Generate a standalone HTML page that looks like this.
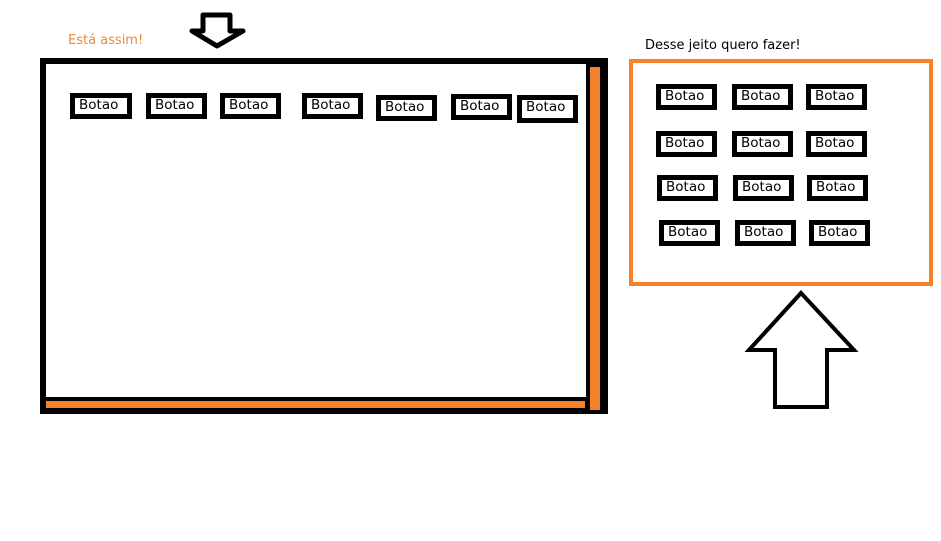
<!DOCTYPE html>
<html><head><meta charset="utf-8"><style>
body{margin:0;width:941px;height:541px;background:#fff;position:relative;overflow:hidden;font-family:"DejaVu Sans","Liberation Sans",sans-serif}
.a{position:absolute;box-sizing:border-box}
.b{position:absolute;box-sizing:border-box;border:5px solid #000;background:#fff;font-size:13.5px;line-height:14px;padding-left:4px;color:#000;height:26px;width:61px;white-space:nowrap;overflow:hidden}
</style></head><body>
<div class="a" style="left:68px;top:33px;font-size:13px;color:#f28a30">Está assim!</div>
<div class="a" style="left:645px;top:38px;font-size:13px;color:#000">Desse jeito quero fazer!</div>
<div class="a" style="left:40px;top:58px;width:568px;height:356px;background:#000"></div>
<div class="a" style="left:46px;top:64px;width:540px;height:333px;background:#fff"></div>
<div class="a" style="left:590px;top:67px;width:10px;height:343px;background:#f5822a"></div>
<div class="a" style="left:46px;top:401px;width:539px;height:7px;background:#f5822a"></div>
<div class="b" style="left:70px;top:93px;width:62px">Botao</div>
<div class="b" style="left:146px;top:93px">Botao</div>
<div class="b" style="left:220px;top:93px">Botao</div>
<div class="b" style="left:302px;top:93px">Botao</div>
<div class="b" style="left:376px;top:95px">Botao</div>
<div class="b" style="left:451px;top:94px">Botao</div>
<div class="b" style="left:517px;top:95px;height:28px">Botao</div>
<div class="a" style="left:629px;top:59px;width:304px;height:227px;border:4px solid #f5822a"></div>
<div class="b" style="left:656px;top:84px">Botao</div>
<div class="b" style="left:732px;top:84px">Botao</div>
<div class="b" style="left:806px;top:84px">Botao</div>
<div class="b" style="left:656px;top:131px">Botao</div>
<div class="b" style="left:732px;top:131px">Botao</div>
<div class="b" style="left:806px;top:131px">Botao</div>
<div class="b" style="left:657px;top:175px">Botao</div>
<div class="b" style="left:733px;top:175px">Botao</div>
<div class="b" style="left:807px;top:175px">Botao</div>
<div class="b" style="left:659px;top:220px">Botao</div>
<div class="b" style="left:735px;top:220px">Botao</div>
<div class="b" style="left:809px;top:220px">Botao</div>
<svg class="a" style="left:0;top:0" width="941" height="541">
<polygon points="203,15 230,15 230,31 243,31 217,46 192,31 203,31" fill="#fff" stroke="#000" stroke-width="5" stroke-linejoin="round"/>
<polygon points="801,293 854,350 827,350 827,407 775,407 775,350 749,350" fill="#fff" stroke="#000" stroke-width="4"/>
</svg>
</body></html>
